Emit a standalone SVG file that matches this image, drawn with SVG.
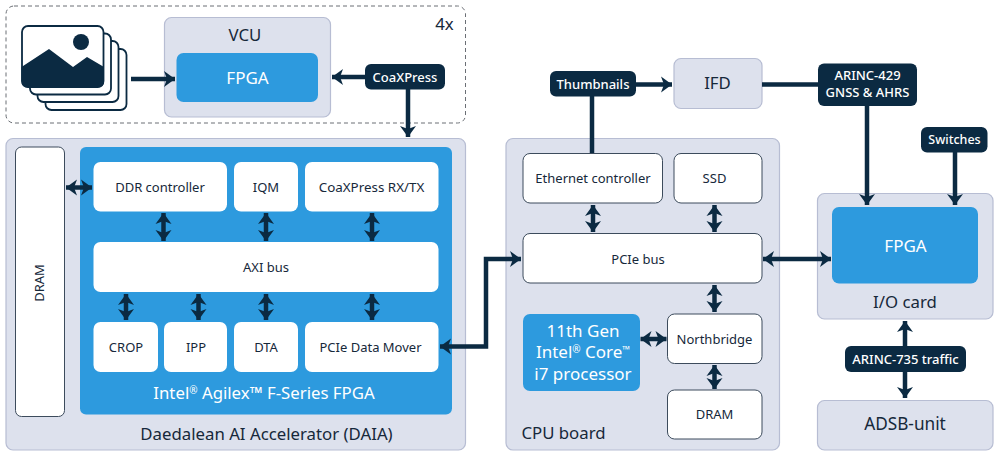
<svg xmlns="http://www.w3.org/2000/svg" width="1001" height="458" viewBox="0 0 1001 458">
<style>
text{font-family:"Noto Sans","Open Sans",sans-serif;text-anchor:middle;fill:#16283a}
.panel{fill:#dde1ed;stroke:#b7bdd3;stroke-width:1.2}
.blue{fill:#2d9ade}
.white{fill:#fff}
.box{fill:#fff;stroke:#3c4b5c;stroke-width:1}
.tag{fill:#0b2a42}
.s13{font-size:13px}
.s17{font-size:16.800px}
.w{fill:#fff}
.tagt{fill:#fff;font-size:13px;font-weight:500}
.ln{fill:none;stroke:#0b2a42;stroke-width:4.500}
.a1{marker-end:url(#h)}
.a2{marker-start:url(#h);marker-end:url(#h)}
.ic{fill:#fff;stroke:#0b2a42;stroke-width:1.800}
.sup{font-size:10px;baseline-shift:5px}
</style>
<defs>
<marker id="h" markerUnits="userSpaceOnUse" markerWidth="14" markerHeight="18" refX="11" refY="8" orient="auto-start-reverse" overflow="visible">
<path d="M0 0L11 8L0 16L3 8Z" fill="#0b2a42"/>
</marker>
</defs>
<rect x="6" y="6" width="459.500" height="117" rx="8" fill="#fff" stroke="#6b6f75" stroke-width="1" stroke-dasharray="4 3"/>
<text x="444.500" y="30" class="s17">4x</text>
<g id="images">
<rect class="ic" x="45.500" y="49" width="81" height="61" rx="6"/>
<rect class="ic" x="37.500" y="41" width="81" height="61" rx="6"/>
<rect class="ic" x="30" y="33.500" width="81" height="61" rx="6"/>
<rect class="ic" x="22" y="26" width="81.500" height="61" rx="6"/>
<path d="M21.500 67L49 49L73 67L87 57L104 67V81Q104 87.500 98 87.500H28Q21.500 87.500 21.500 81Z" fill="#0b2a42"/>
<circle cx="81" cy="42" r="8" fill="#0b2a42"/>
</g>
<g id="vcu"><rect class="panel" x="164.500" y="17.500" width="166" height="99.500" rx="7"/><text x="245" y="41" class="s17">VCU</text></g>
<g id="vcu-fpga"><rect class="blue" x="176.500" y="53" width="141.500" height="49" rx="7"/><text x="247.500" y="84" class="w" style="font-size:17px">FPGA</text></g>
<g id="daia"><rect class="panel" x="6" y="138.500" width="459.500" height="311.500" rx="7"/><text x="266.500" y="440" class="s17">Daedalean AI Accelerator (DAIA)</text></g>
<g id="daia-dram"><rect class="box" x="15.500" y="147" width="49" height="269.500" rx="6"/><text transform="translate(44 283) rotate(-90)" class="s13">DRAM</text></g>
<g id="agilex"><rect class="blue" x="80" y="147" width="372" height="267.500" rx="6"/><text x="264" y="399" class="w s17">Intel<tspan class="sup">®</tspan> Agilex™ F-Series FPGA</text></g>
<g id="ddr"><rect class="white" x="93.500" y="162" width="133.500" height="49.500" rx="7"/><text x="160" y="192" class="s13">DDR controller</text></g>
<g id="iqm"><rect class="white" x="234" y="162" width="64" height="49.500" rx="7"/><text x="266" y="192" class="s13">IQM</text></g>
<g id="coax-rxtx"><rect class="white" x="305" y="162" width="133.500" height="49.500" rx="7"/><text x="371.500" y="192" style="font-size:13.400px">CoaXPress RX/TX</text></g>
<g id="axi"><rect class="white" x="93.500" y="242" width="345" height="50" rx="7"/><text x="266" y="272" class="s13">AXI bus</text></g>
<g id="crop"><rect class="white" x="93.500" y="322" width="64.500" height="50" rx="7"/><text x="126" y="352" class="s13">CROP</text></g>
<g id="ipp"><rect class="white" x="164" y="322" width="63" height="50" rx="7"/><text x="196" y="352" class="s13">IPP</text></g>
<g id="dta"><rect class="white" x="234" y="322" width="64" height="50" rx="7"/><text x="266" y="352" class="s13">DTA</text></g>
<g id="pcie-mover"><rect class="white" x="305" y="322" width="133.500" height="50" rx="7"/><text x="370.500" y="352" class="s13">PCIe Data Mover</text></g>
<g id="cpu"><rect class="panel" x="506" y="138.500" width="273.500" height="311.500" rx="7"/><text x="563.500" y="439" class="s17">CPU board</text></g>
<g id="eth"><rect class="box" x="523" y="153.500" width="139.500" height="49.500" rx="7"/><text x="593" y="183" class="s13">Ethernet controller</text></g>
<g id="ssd"><rect class="box" x="674" y="153.500" width="88" height="49.500" rx="7"/><text x="714.500" y="183" class="s13">SSD</text></g>
<g id="pcie-bus"><rect class="box" x="523" y="233.500" width="239" height="49.500" rx="7"/><text x="638" y="264" class="s13">PCIe bus</text></g>
<g id="cpu-core"><rect class="blue" x="523" y="314" width="117" height="77" rx="7"/><text x="583" y="336.500" class="w" style="font-size:17px">11th Gen</text><text x="583" y="358" class="w" style="font-size:17px">Intel<tspan class="sup">®</tspan> Core<tspan class="sup">™</tspan></text><text x="583" y="379.500" class="w" style="font-size:17px">i7 processor</text></g>
<g id="northbridge"><rect class="box" x="667.500" y="314" width="94.500" height="49.500" rx="7"/><text x="714.500" y="344" class="s13">Northbridge</text></g>
<g id="cpu-dram"><rect class="box" x="667.500" y="390" width="94.500" height="49" rx="7"/><text x="714.500" y="419" class="s13">DRAM</text></g>
<g id="ifd"><rect class="panel" x="674" y="58.500" width="88" height="50" rx="7"/><text x="717.500" y="89" class="s17">IFD</text></g>
<g id="io"><rect class="panel" x="817.500" y="193.500" width="175.500" height="125.500" rx="7"/><text x="905" y="308" class="s17">I/O card</text></g>
<g id="io-fpga"><rect class="blue" x="832" y="207" width="146" height="76.500" rx="7"/><text x="905.500" y="252" class="w" style="font-size:17px">FPGA</text></g>
<g id="adsb"><rect class="panel" x="817.500" y="400.500" width="175.500" height="49.500" rx="7"/><text x="905" y="430" style="font-size:17.200px">ADSB-unit</text></g>
<g id="connectors">
<path class="ln a1" d="M131 79H175"/>
<path class="ln a1" d="M366 77H332"/>
<path class="ln a1" d="M408 89V137"/>
<path class="ln a2" d="M66 187.500H92"/>
<path class="ln a2" d="M163.500 213V241"/>
<path class="ln a2" d="M266 213V241"/>
<path class="ln a2" d="M372 213V241"/>
<path class="ln a2" d="M126 294V320"/>
<path class="ln a2" d="M198.500 294V320"/>
<path class="ln a2" d="M266 294V320"/>
<path class="ln a2" d="M372 294V320"/>
<path class="ln a2" d="M521 259H486V346.500H440"/>
<path class="ln" d="M592 96V153"/>
<path class="ln a1" d="M636 84.500H672"/>
<path class="ln" d="M762 84.500H820"/>
<path class="ln a1" d="M867 105V205"/>
<path class="ln a1" d="M955 151V205"/>
<path class="ln a2" d="M593 205V232"/>
<path class="ln a2" d="M714.500 205V232"/>
<path class="ln a2" d="M714.500 285V312"/>
<path class="ln a2" d="M714.500 365V389"/>
<path class="ln a2" d="M640.500 339H666.500"/>
<path class="ln a2" d="M763 259H831"/>
<path class="ln a2" d="M905 321V398"/>
</g>
<g id="tag-coax"><rect class="tag" x="365" y="64" width="80" height="25.500" rx="6"/><text x="405" y="81.500" class="tagt">CoaXPress</text></g>
<g id="tag-thumb"><rect class="tag" x="550" y="71" width="86" height="25.500" rx="6"/><text x="593" y="88.500" class="tagt">Thumbnails</text></g>
<g id="tag-arinc429"><rect class="tag" x="818" y="63.500" width="99" height="42.500" rx="6"/><text x="867.500" y="80" class="tagt">ARINC-429</text><text x="867.500" y="97" class="tagt">GNSS &amp; AHRS</text></g>
<g id="tag-switches"><rect class="tag" x="921" y="127" width="66.500" height="25.500" rx="6"/><text x="954.500" y="143.500" class="tagt" style="font-size:12.500px">Switches</text></g>
<g id="tag-arinc735"><rect class="tag" x="845" y="346" width="121" height="26" rx="6"/><text x="905.500" y="363.500" class="tagt">ARINC-735 traffic</text></g>
</svg>
